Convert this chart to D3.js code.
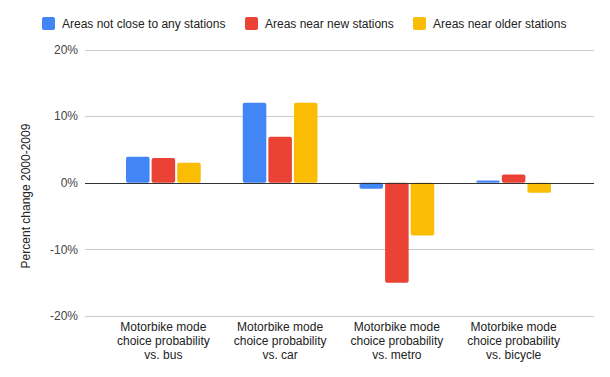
<!DOCTYPE html>
<html>
<head>
<meta charset="utf-8">
<script src="https://cdn.jsdelivr.net/npm/d3@7"></script>
<style>
  body { margin: 0; background: #fff; }
  text { font-family: Arial, "Liberation Sans", sans-serif; }
</style>
</head>
<body>
<div id="chart"></div>
<script>
// data
const categories = [
    ["Motorbike mode", "choice probability", "vs. bus"],
    ["Motorbike mode", "choice probability", "vs. car"],
    ["Motorbike mode", "choice probability", "vs. metro"],
    ["Motorbike mode", "choice probability", "vs. bicycle"]
];
const seriesNames = ["Areas not close to any stations", "Areas near new stations", "Areas near older stations"];
const notClose = [3.9, 12.0, -0.9, 0.35];
const nearNew = [3.7, 6.9, -15.0, 1.25];
const nearOlder = [3.0, 12.0, -7.9, -1.5];
const yTicks = [-20, -10, 0, 10, 20];
const colors = ["#4285F4", "#EA4335", "#FBBC04"];

const series = [notClose, nearNew, nearOlder];

const width = 610, height = 377;
const plot = {left: 85, right: 594, top: 49.5, bottom: 316};

const svg = d3.select('#chart')
    .append('svg')
    .attr('width', width)
    .attr('height', height);

const yScale = d3.scaleLinear()
    .domain([-20, 20])
    .range([plot.bottom, plot.top]);

const catIdx = categories.map((c, i) => i);
const x0 = d3.scaleBand()
    .domain(catIdx)
    .range([plot.left + 20, plot.right - 22])
    .paddingInner(0.36)
    .paddingOuter(0.18);

const x1 = d3.scaleBand()
    .domain([0, 1, 2])
    .range([0, x0.bandwidth()])
    .paddingInner(0.08);

// gridlines
svg.append('g')
    .selectAll('line')
    .data(yTicks.filter(t => t !== 0))
    .enter()
    .append('line')
    .attr('x1', plot.left)
    .attr('x2', plot.right)
    .attr('y1', d => Math.round(yScale(d)) + 0.5)
    .attr('y2', d => Math.round(yScale(d)) + 0.5)
    .attr('stroke', '#cccccc')
    .attr('stroke-width', 1);

// y tick labels
svg.append('g')
    .selectAll('text')
    .data(yTicks)
    .enter()
    .append('text')
    .attr('x', 78)
    .attr('y', d => yScale(d))
    .attr('dy', '0.35em')
    .attr('text-anchor', 'end')
    .style('font-size', '12px')
    .style('fill', '#444')
    .text(d => d + '%');

// bars
const groups = svg.append('g')
    .selectAll('g')
    .data(catIdx)
    .enter()
    .append('g')
    .attr('transform', i => `translate(${x0(i)},0)`);

groups.selectAll('rect')
    .data(i => series.map((s, k) => ({k: k, v: s[i]})))
    .enter()
    .append('rect')
    .attr('x', d => x1(d.k))
    .attr('width', x1.bandwidth())
    .attr('y', d => yScale(Math.max(0, d.v)))
    .attr('height', d => Math.abs(yScale(d.v) - yScale(0)))
    .attr('rx', 2)
    .attr('fill', d => colors[d.k]);

// zero line
svg.append('line')
    .attr('x1', plot.left)
    .attr('x2', plot.right)
    .attr('y1', Math.round(yScale(0)) + 0.5)
    .attr('y2', Math.round(yScale(0)) + 0.5)
    .attr('stroke', '#333')
    .attr('stroke-width', 1);

// category labels
const catLabels = svg.append('g')
    .selectAll('text')
    .data(catIdx)
    .enter()
    .append('text')
    .attr('x', i => x0(i) + x0.bandwidth() / 2)
    .attr('y', 331)
    .attr('text-anchor', 'middle')
    .style('font-size', '12px')
    .style('fill', '#222');

catLabels.selectAll('tspan')
    .data(i => categories[i])
    .enter()
    .append('tspan')
    .attr('x', function () { return d3.select(this.parentNode).attr('x'); })
    .attr('dy', (d, j) => j === 0 ? 0 : 14)
    .text(d => d);

// y label
svg.append('text')
    .attr('transform', 'translate(30,196) rotate(-90)')
    .attr('text-anchor', 'middle')
    .style('font-size', '12px')
    .style('fill', '#222')
    .text('Percent change 2000-2009');

// legend
const legendX = [42, 245, 413];
const legend = svg.append('g');
seriesNames.forEach(function (name, k) {
    legend.append('rect')
        .attr('x', legendX[k])
        .attr('y', 17)
        .attr('width', 13)
        .attr('height', 13)
        .attr('rx', 2)
        .attr('fill', colors[k]);
    legend.append('text')
        .attr('x', legendX[k] + 20)
        .attr('y', 23.5)
        .attr('dy', '0.35em')
        .style('font-size', '12px')
        .style('fill', '#222')
        .text(name);
});
</script>
</body>
</html>
